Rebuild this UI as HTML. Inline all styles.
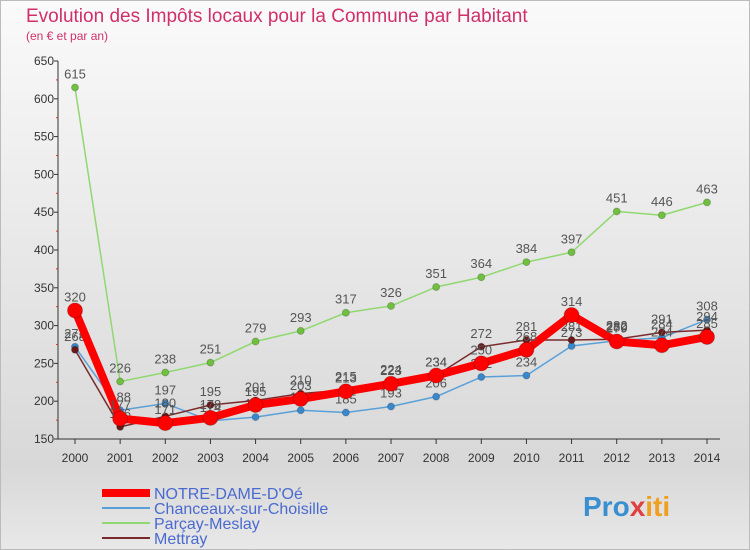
<!DOCTYPE html>
<html><head><meta charset="utf-8"><style>
body{margin:0;width:750px;height:550px;overflow:hidden;font-family:"Liberation Sans",sans-serif}
#c{position:absolute;left:0;top:0;width:748px;height:548px;border:1px solid #bbb;background:linear-gradient(#fafafa,#d8d8d8 85%,#e8e8e8)}
</style></head><body>
<div id="c"></div>
<svg id="s" width="750" height="550" style="position:absolute;left:0;top:0;font-family:'Liberation Sans',sans-serif">
<text x="26" y="22" font-size="19" fill="#d0306a">Evolution des Impôts locaux pour la Commune par Habitant</text>
<text x="26" y="40" font-size="12" fill="#d0306a">(en € et par an)</text>
<text x="583" y="516" font-size="28" font-weight="bold" fill="#3a8fd0">Pro<tspan fill="#e04040">x</tspan><tspan fill="#f0a020">iti</tspan></text>
</svg>
<script>
const years=[2000,2001,2002,2003,2004,2005,2006,2007,2008,2009,2010,2011,2012,2013,2014];
const yTicks=[150,200,250,300,350,400,450,500,550,600,650];
const notreDame=[320,177,171,178,195,203,213,223,234,250,268,314,279,274,285];
const chanceaux=[272,188,197,174,179,188,185,193,206,232,234,273,280,284,308];
const parcay=[615,226,238,251,279,293,317,326,351,364,384,397,451,446,463];
const mettray=[268,166,180,195,201,210,215,224,234,272,281,281,282,291,294];
const names=["NOTRE-DAME-D'Oé","Chanceaux-sur-Choisille","Parçay-Meslay","Mettray"];
const s=document.getElementById('s'),NS='http://www.w3.org/2000/svg';
const X=i=>75+i*(707-75)/(years.length-1);
const Y=v=>439-(v-150)*378/500;
function el(t,a,p){const e=document.createElementNS(NS,t);for(const k in a)e.setAttribute(k,a[k]);(p||s).appendChild(e);return e;}
el('line',{x1:58,y1:61,x2:58,y2:439,stroke:'#333'});
el('line',{x1:58,y1:439,x2:720,y2:439,stroke:'#333'});
yTicks.forEach(v=>{const t=el('text',{x:54,y:Y(v)+4,'font-size':12,'text-anchor':'end',fill:'#333'});t.textContent=v;

el('line',{x1:54,y1:Y(v),x2:58,y2:Y(v),stroke:'#333'});
if(v<650)el('line',{x1:56,y1:Y(v+25),x2:58,y2:Y(v+25),stroke:'#d33'});});
years.forEach((y,i)=>{el('line',{x1:X(i),y1:439,x2:X(i),y2:444,stroke:'#333'});
const t=el('text',{x:X(i),y:462,'font-size':12,'text-anchor':'middle',fill:'#333'});t.textContent=y;
});
const series=[[parcay,'#90d870','#70c040',1.5,3.5],[chanceaux,'#5aa0d8','#3a88cc',1.5,3.5],[mettray,'#7a2a2a','#6a1a1a',1.5,3.5],[notreDame,'#ff0000','#ff0000',8,7.5]];
series.forEach(([d,c,f,w,r],k)=>{const g=el('g',{});

el('polyline',{points:d.map((v,i)=>X(i)+','+Y(v)).join(' '),fill:'none',stroke:c,'stroke-width':w,'stroke-linejoin':'round'},g);
d.forEach((v,i)=>{const p=el('circle',{cx:X(i),cy:Y(v),r:r,fill:f,stroke:'rgba(0,0,0,0.2)'},g);

const t=el('text',{x:X(i),y:Y(v)-9,'font-size':13,'text-anchor':'middle',fill:'#555'},g);t.textContent=v;
});});
const lc=['#ff0000','#5aa0d8','#90d870','#7a2a2a'],lw=[8,2,2,2];
names.forEach((n,i)=>{const yy=493+i*15;el('line',{x1:102,y1:yy,x2:150,y2:yy,stroke:lc[i],'stroke-width':lw[i]});
const t=el('text',{x:154,y:yy+6,'font-size':16,fill:'#4a6ad0'});t.textContent=n;
});
</script>
</body></html>
